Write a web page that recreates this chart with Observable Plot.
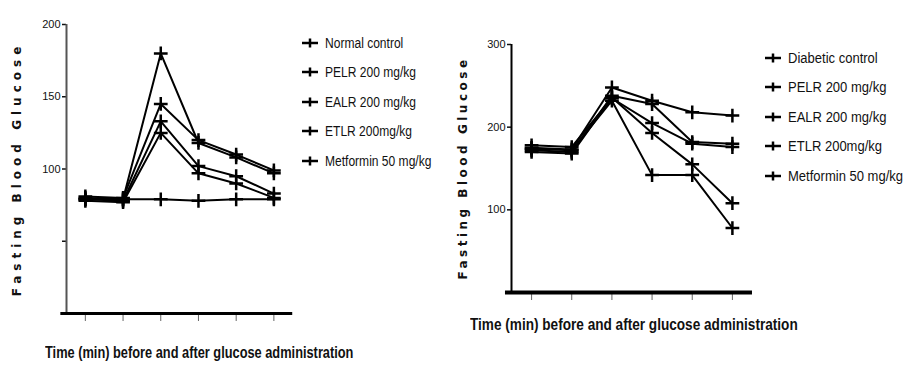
<!DOCTYPE html>
<html>
<head>
<meta charset="utf-8">
<script src="https://cdn.jsdelivr.net/npm/d3@7"></script>
<script src="https://cdn.jsdelivr.net/npm/@observablehq/plot@0.6"></script>
<style>
  body { margin: 0; background: #fff; }
  #wrap { position: relative; width: 909px; height: 367px; overflow: hidden; background: #fff;
          font-family: "Liberation Sans", Arial, sans-serif; color: #111; }
  .panel { position: absolute; top: 0; }
  .ytitle { position: absolute; white-space: nowrap; transform: translate(-50%, -50%) rotate(-90deg);
            font-family: "DejaVu Sans", sans-serif; font-weight: bold; font-size: 12px; letter-spacing: 3px; }
  .xtitle { position: absolute; white-space: nowrap; font-weight: bold; font-size: 16px; }
  .legend { position: absolute; }
  .legend .row { display: flex; align-items: center; white-space: nowrap; }
  .legend svg { margin-right: 6px; flex: none; }
  .legend span { display: inline-block; transform-origin: left center; }
</style>
</head>
<body>
<div id="wrap"></div>
<script>
// Six sampling times (before and after the glucose load); the axis carries no labels
const timePoints = [0, 1, 2, 3, 4, 5];

// Normoglycaemic groups
const normalGroups = ["Normal control", "PELR 200 mg/kg", "EALR 200 mg/kg", "ETLR 200mg/kg", "Metformin 50 mg/kg"];
const normalControl   = [79, 79, 79, 78, 79, 79];
const normalPELR      = [80, 79, 180, 118, 108, 97];
const normalEALR      = [81, 80, 145, 120, 110, 99];
const normalETLR      = [79, 78, 133, 102, 95, 83];
const normalMetformin = [78, 77, 125, 97, 90, 80];
const normalTicks = [50, 100, 150, 200];
const normalTickLabels = ["", "100", "150", "200"];

// Diabetic groups
const diabeticGroups = ["Diabetic control", "PELR 200 mg/kg", "EALR 200 mg/kg", "ETLR 200mg/kg", "Metformin 50 mg/kg"];
const diabeticControl   = [175, 173, 248, 232, 218, 214];
const diabeticPELR      = [172, 170, 238, 228, 182, 180];
const diabeticEALR      = [178, 176, 235, 205, 180, 176];
const diabeticETLR      = [170, 168, 236, 193, 155, 108];
const diabeticMetformin = [174, 172, 232, 142, 142, 78];
const diabeticTicks = [100, 200, 300];
const diabeticTickLabels = ["100", "200", "300"];

const xTitle = "Time (min) before and after glucose administration";
const yTitle = "Fasting Blood Glucose";

function toRows(groups, series) {
  const rows = [];
  groups.forEach((g, i) => series[i].forEach((v, j) => rows.push({group: g, t: timePoints[j], v})));
  return rows;
}

function panel({rows, ymax, ticks, labels, height, marginTop, marginBottom, marginLeft, yAxisColor, xAxisWidth}) {
  return Plot.plot({
    width: 300, height, marginTop, marginBottom, marginLeft, marginRight: 4,
    style: {fontFamily: "'Liberation Sans', Arial, sans-serif", fontSize: "11px", color: "#111", background: "transparent"},
    x: {domain: [-0.5, 5.6], axis: null},
    y: {domain: [0, ymax], axis: null},
    marks: [
      Plot.axisY({ticks, tickSize: 4, tickPadding: 2, strokeWidth: 1.5,
                  tickFormat: d => labels[ticks.indexOf(d)], label: null, fontSize: 11, letterSpacing: "-0.6px"}),
      Plot.axisX({ticks: timePoints, tickSize: 8, tickFormat: () => "", label: null, stroke: "#666"}),
      Plot.ruleX([-0.5], {y1: 0, y2: ymax, stroke: yAxisColor, strokeWidth: 2}),
      Plot.ruleY([0], {x1: -0.65, x2: 5.5, stroke: "#000", strokeWidth: xAxisWidth}),
      Plot.line(rows, {x: "t", y: "v", z: "group", stroke: "#000", strokeWidth: 2}),
      Plot.dot(rows, {x: "t", y: "v", symbol: "plus", r: 4.5, stroke: "#000", strokeWidth: 2.5})
    ]
  });
}

function legend(groups, left, top, rowH, fontSize, squeeze) {
  const div = document.createElement("div");
  div.className = "legend";
  div.style.left = left + "px";
  div.style.top = top + "px";
  div.style.fontSize = fontSize + "px";
  groups.forEach(g => {
    const row = document.createElement("div");
    row.className = "row";
    row.style.height = rowH + "px";
    row.innerHTML = `<svg width="18" height="12"><line x1="1" x2="17" y1="6" y2="6" stroke="#000" stroke-width="2.5"/>` +
      `<line x1="9" x2="9" y1="1.5" y2="10.5" stroke="#000" stroke-width="2.5"/></svg><span></span>`;
    const span = row.querySelector("span");
    span.textContent = g;
    span.style.transform = `scaleX(${squeeze})`;
    div.appendChild(row);
  });
  return div;
}

function yLabel(x, y, spacing) {
  const d = document.createElement("div");
  d.className = "ytitle";
  d.textContent = yTitle;
  d.style.left = x + "px";
  d.style.top = y + "px";
  d.style.letterSpacing = spacing + "px";
  return d;
}

function xLabel(left, top, squeeze) {
  const d = document.createElement("div");
  d.className = "xtitle";
  d.textContent = xTitle;
  d.style.left = left + "px";
  d.style.top = top + "px";
  d.style.transformOrigin = "left top";
  d.style.transform = `scaleX(${squeeze})`;
  return d;
}

const wrap = document.getElementById("wrap");

// Normal rats
const left = panel({
  rows: toRows(normalGroups, [normalControl, normalPELR, normalEALR, normalETLR, normalMetformin]),
  ymax: 200, ticks: normalTicks, labels: normalTickLabels,
  height: 340, marginTop: 24, marginBottom: 27, marginLeft: 66, yAxisColor: "#555", xAxisWidth: 3
});
left.classList.add("panel");
left.style.left = "0px";
wrap.appendChild(left);
wrap.appendChild(legend(normalGroups, 301, 28, 29.5, 14, 0.86));
wrap.appendChild(yLabel(17, 169, 5));
wrap.appendChild(xLabel(45, 344, 0.8));

// Diabetic rats
const right = panel({
  rows: toRows(diabeticGroups, [diabeticControl, diabeticPELR, diabeticEALR, diabeticETLR, diabeticMetformin]),
  ymax: 300, ticks: diabeticTicks, labels: diabeticTickLabels,
  height: 320, marginTop: 44, marginBottom: 28, marginLeft: 51, yAxisColor: "#000", xAxisWidth: 4
});
right.classList.add("panel");
right.style.left = "460px";
wrap.appendChild(right);
wrap.appendChild(legend(diabeticGroups, 764, 43, 29.5, 14, 0.93));
wrap.appendChild(yLabel(463, 168, 3.5));
wrap.appendChild(xLabel(470, 316, 0.85));
</script>
</body>
</html>
